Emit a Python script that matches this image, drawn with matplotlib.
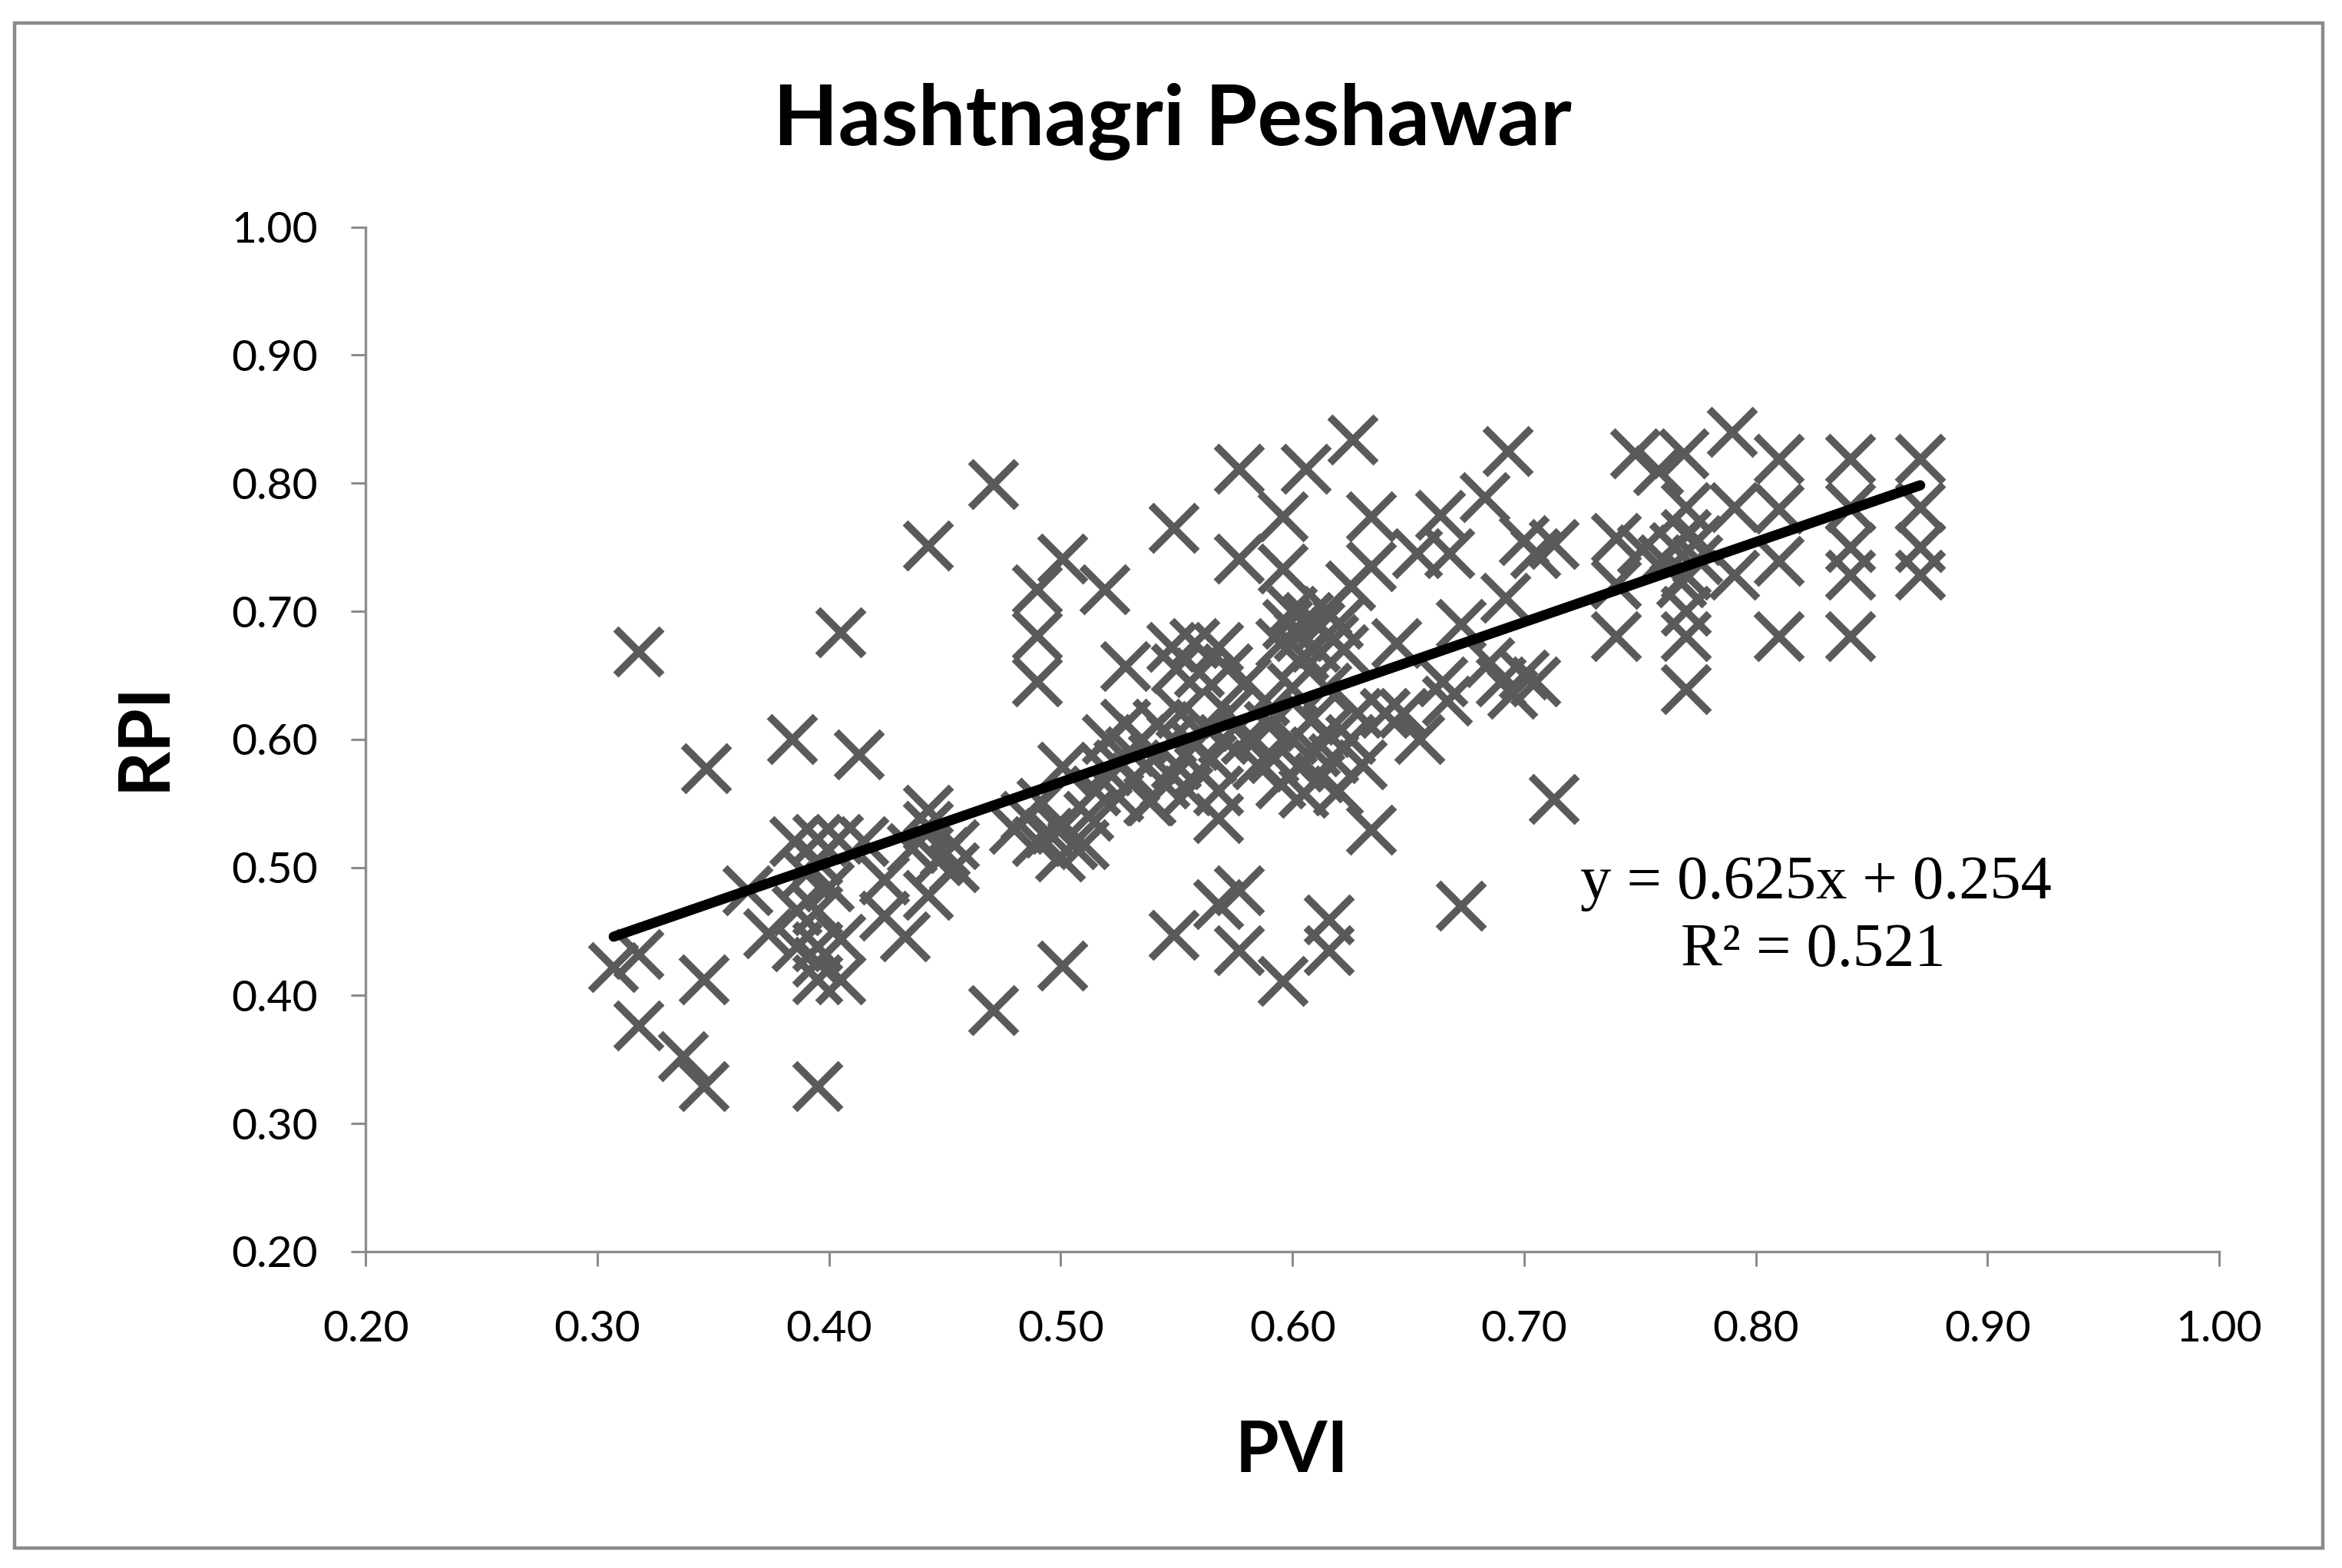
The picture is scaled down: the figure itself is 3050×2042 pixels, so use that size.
import numpy as np
import matplotlib
matplotlib.use("Agg")
import matplotlib.pyplot as plt
from matplotlib.patches import Rectangle

# PVI / RPI pairs
pvi = np.array([
    0.318, 0.307, 0.318, 0.318, 0.337, 0.346, 0.346, 0.347, 0.365, 0.374,
    0.384, 0.386, 0.386, 0.395, 0.395, 0.395, 0.405, 0.405, 0.395, 0.395,
    0.385, 0.395, 0.404, 0.415, 0.390, 0.400, 0.395, 0.405, 0.413, 0.424,
    0.433, 0.424, 0.443, 0.443, 0.443, 0.443, 0.450, 0.454, 0.454, 0.447,
    0.436, 0.471, 0.471, 0.480, 0.485, 0.490, 0.492, 0.490, 0.490, 0.490,
    0.501, 0.501, 0.501, 0.500, 0.505, 0.510, 0.500, 0.512, 0.519, 0.528,
    0.495, 0.515, 0.520, 0.520, 0.525, 0.528, 0.530, 0.532, 0.535, 0.538,
    0.540, 0.542, 0.545, 0.548, 0.550, 0.552, 0.555, 0.558, 0.560, 0.562,
    0.565, 0.568, 0.570, 0.572, 0.568, 0.539, 0.525, 0.548, 0.558, 0.568,
    0.550, 0.560, 0.572, 0.580, 0.549, 0.549, 0.577, 0.577, 0.568, 0.577,
    0.577, 0.596, 0.596, 0.596, 0.606, 0.626, 0.616, 0.616, 0.598, 0.603,
    0.607, 0.610, 0.612, 0.615, 0.618, 0.605, 0.620, 0.595, 0.622, 0.600,
    0.580, 0.585, 0.590, 0.592, 0.595, 0.600, 0.603, 0.605, 0.608, 0.610,
    0.612, 0.615, 0.618, 0.620, 0.625, 0.628, 0.630, 0.588, 0.600, 0.615,
    0.634, 0.634, 0.625, 0.634, 0.645, 0.640, 0.648, 0.655, 0.654, 0.664,
    0.668, 0.673, 0.667, 0.665, 0.673, 0.683, 0.693, 0.685, 0.690, 0.695,
    0.700, 0.692, 0.700, 0.705, 0.713, 0.713, 0.705, 0.740, 0.740, 0.740,
    0.748, 0.769, 0.758, 0.770, 0.770, 0.765, 0.770, 0.770, 0.770, 0.770,
    0.760, 0.751, 0.775, 0.790, 0.791, 0.791, 0.810, 0.810, 0.810, 0.810,
    0.841, 0.841, 0.841, 0.841, 0.841, 0.871, 0.871, 0.871, 0.871, 0.775,
    0.768,
])
rpi = np.array([
    0.668, 0.422, 0.432, 0.376, 0.352, 0.329, 0.412, 0.577, 0.482, 0.448,
    0.600, 0.466, 0.438, 0.438, 0.426, 0.412, 0.412, 0.444, 0.466, 0.329,
    0.520, 0.522, 0.522, 0.520, 0.495, 0.485, 0.505, 0.683, 0.588, 0.462,
    0.446, 0.490, 0.751, 0.545, 0.532, 0.478, 0.512, 0.518, 0.500, 0.505,
    0.515, 0.799, 0.388, 0.530, 0.540, 0.520, 0.550, 0.717, 0.681, 0.645,
    0.741, 0.423, 0.578, 0.530, 0.518, 0.518, 0.508, 0.540, 0.717, 0.657,
    0.527, 0.560, 0.575, 0.600, 0.555, 0.612, 0.590, 0.570, 0.600, 0.552,
    0.585, 0.612, 0.565, 0.600, 0.580, 0.620, 0.560, 0.595, 0.575, 0.610,
    0.585, 0.560, 0.600, 0.620, 0.538, 0.552, 0.580, 0.672, 0.675, 0.672,
    0.655, 0.652, 0.655, 0.645, 0.765, 0.447, 0.811, 0.741, 0.471, 0.482,
    0.435, 0.411, 0.774, 0.733, 0.811, 0.834, 0.459, 0.435, 0.690, 0.680,
    0.695, 0.672, 0.688, 0.700, 0.678, 0.665, 0.690, 0.675, 0.670, 0.700,
    0.600, 0.580, 0.610, 0.585, 0.565, 0.600, 0.578, 0.558, 0.615, 0.590,
    0.570, 0.605, 0.585, 0.560, 0.600, 0.620, 0.580, 0.630, 0.640, 0.640,
    0.774, 0.735, 0.720, 0.529, 0.675, 0.620, 0.620, 0.600, 0.745, 0.775,
    0.745, 0.690, 0.630, 0.645, 0.470, 0.789, 0.825, 0.660, 0.645, 0.635,
    0.650, 0.710, 0.755, 0.745, 0.752, 0.553, 0.645, 0.757, 0.721, 0.680,
    0.823, 0.823, 0.810, 0.781, 0.760, 0.750, 0.728, 0.700, 0.680, 0.639,
    0.740, 0.748, 0.740, 0.840, 0.781, 0.728, 0.819, 0.780, 0.739, 0.680,
    0.819, 0.781, 0.750, 0.728, 0.680, 0.819, 0.781, 0.750, 0.728, 0.755,
    0.722,
])

SLOPE, INTERCEPT, R2 = 0.625, 0.254, 0.521
TICKS = [0.2, 0.3, 0.4, 0.5, 0.6, 0.7, 0.8, 0.9, 1.0]

SANS = ["Lato", "DejaVu Sans"]
AXIS_GREY = "#8c8c8c"

fig = plt.figure(figsize=(30.5, 20.42), dpi=100)
fig.patches.append(Rectangle((0.0062, 0.0127), 0.9856, 0.9726, transform=fig.transFigure,
                             fill=False, edgecolor="#8a8a8a", lw=3.2))

ax = fig.add_axes([0.1562, 0.2018, 0.7913, 0.6534])
ax.plot(pvi, rpi, ls="none", marker="x", ms=43, mew=7, color="#5a5a5a", zorder=2)

# trendline over the data range, from the fitted coefficients
xs = np.array([pvi.min(), pvi.max()])
ax.plot(xs, SLOPE * xs + INTERCEPT, color="black", lw=9.5,
        solid_capstyle="round", zorder=3)

ax.set_xlim(0.2, 1.0)
ax.set_ylim(0.2, 1.0)
ax.set_xticks(TICKS)
ax.set_yticks(TICKS)
ax.set_xticklabels([f"{t:.2f}" for t in TICKS])
ax.set_yticklabels([f"{t:.2f}" for t in TICKS])
for lab in ax.get_xticklabels() + ax.get_yticklabels():
    lab.set_family(SANS)
    lab.set_fontsize(41)
ax.tick_params(axis="both", direction="out", length=14, width=2.2, color=AXIS_GREY)
ax.tick_params(axis="x", pad=41)
ax.tick_params(axis="y", pad=31)
for side in ("top", "right"):
    ax.spines[side].set_visible(False)
for side in ("left", "bottom"):
    ax.spines[side].set_color(AXIS_GREY)
    ax.spines[side].set_linewidth(2.4)

fig.text(0.5007, 0.9074, "Hashtnagri Peshawar", ha="center", va="baseline",
         fontsize=79, fontweight="bold", family=SANS)
fig.text(0.5516, 0.0612, "PVI", ha="center", va="baseline",
         fontsize=66, fontweight="bold", family=SANS)
fig.text(0.0705, 0.5304, "RPI", ha="center", va="baseline", rotation=90,
         rotation_mode="anchor", fontsize=66, fontweight="bold", family=SANS)

SERIF = ["Liberation Serif", "DejaVu Serif"]
fig.text(0.7754, 0.4270, f"y = {SLOPE:.3f}x + {INTERCEPT:.3f}", ha="center",
         va="baseline", fontsize=58, family=SERIF)
fig.text(0.7741, 0.3839, f"R\u00b2 = {R2:.3f}", ha="center", va="baseline",
         fontsize=58, family=SERIF)

fig.savefig("out.png", dpi=100)
